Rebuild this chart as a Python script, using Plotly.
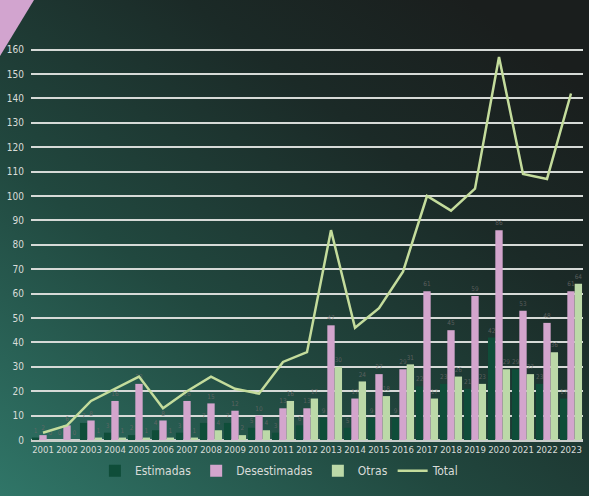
import base64
import plotly.graph_objects as go

years = [str(y) for y in range(2001, 2024)]
estimadas = [1, 0, 7, 3, 2, 4, 3, 7, 7, 5, 3, 6, 9, 5, 9, 9, 22, 23, 21, 42, 29, 23, 17]
desestimadas = [2, 6, 8, 16, 23, 8, 16, 15, 12, 10, 13, 13, 47, 17, 27, 29, 61, 45, 59, 86, 53, 48, 61]
otras = [0, 0, 1, 1, 1, 1, 1, 4, 2, 4, 16, 17, 30, 24, 18, 31, 17, 26, 23, 29, 27, 36, 64]
total = [3, 6, 16, 21, 26, 13, 20, 26, 21, 19, 32, 36, 86, 46, 54, 69, 100, 94, 103, 157, 109, 107, 142]
y_ticks = list(range(0, 170, 10))

W, H = 589, 496
ML, MR, MT, MB = 31, 6, 13, 56
PW, PH = W - ML - MR, H - MT - MB

FONT = "DejaVu Sans Condensed, Liberation Sans Narrow, sans-serif"
TXT = "#d9dcd9"

svg = f'''<svg xmlns="http://www.w3.org/2000/svg" width="{W}" height="{H}" viewBox="0 0 {W} {H}" preserveAspectRatio="none">
<defs><linearGradient id="g" x1="0" y1="1" x2="0.85" y2="0.05">
<stop offset="0" stop-color="#307668"/><stop offset="0.4" stop-color="#21483f"/>
<stop offset="0.75" stop-color="#1b2a27"/><stop offset="1" stop-color="#1a1e1d"/></linearGradient></defs>
<rect width="{W}" height="{H}" fill="url(#g)"/>
<polygon points="0,0 34,0 0,56" fill="#d2a4cf"/>
</svg>'''
src = "data:image/svg+xml;base64," + base64.b64encode(svg.encode()).decode()

fig = go.Figure()
common = dict(textposition="outside", cliponaxis=False,
              textfont=dict(color="rgba(105,105,105,0.8)", size=7, family=FONT))
fig.add_trace(go.Bar(x=years, y=estimadas, name="Estimadas", marker_color="#0f4d39",
                     marker_line_width=0, text=estimadas, **common))
fig.add_trace(go.Bar(x=years, y=desestimadas, name="Desestimadas", marker_color="#d3a5cd",
                     marker_line_width=0, text=desestimadas, **common))
fig.add_trace(go.Bar(x=years, y=otras, name="Otras", marker_color="#bcd9a8",
                     marker_line_width=0, text=otras, **common))
fig.add_trace(go.Scatter(x=years, y=total, name="Total", mode="lines",
                         line=dict(color="#c4dc9c", width=2.5)))

fig.update_layout(
    width=W, height=H,
    margin=dict(l=ML, r=MR, t=MT, b=MB),
    paper_bgcolor="#1c2a27", plot_bgcolor="rgba(0,0,0,0)",
    barmode="group", bargap=0.08, bargroupgap=0.0,
    uniformtext=dict(mode="hide", minsize=6),
    font=dict(family=FONT, color=TXT, size=10),
    showlegend=True,
    legend=dict(orientation="h", x=0.45, xanchor="center", y=-0.072, yanchor="middle",
                bgcolor="rgba(0,0,0,0)", font=dict(size=12, color=TXT, family=FONT),
                itemwidth=30, traceorder="normal"),
    images=[dict(source=src, xref="paper", yref="paper",
                 x=-ML / PW, y=1 + MT / PH, sizex=W / PW, sizey=H / PH,
                 xanchor="left", yanchor="top", sizing="stretch", layer="below")],
)
fig.update_xaxes(type="category", showgrid=False, showline=True, linecolor="#c9cdca",
                 linewidth=2, ticks="", tickfont=dict(size=9.5, color=TXT), tickangle=0)
fig.update_yaxes(range=[0, 175], tickvals=y_ticks, showgrid=True, gridcolor="#d6dad7",
                 gridwidth=2, zeroline=True, zerolinecolor="#c9cdca", zerolinewidth=2,
                 tickfont=dict(size=10, color=TXT), ticks="", ticklabelstandoff=6)

fig.write_html("out.html")
